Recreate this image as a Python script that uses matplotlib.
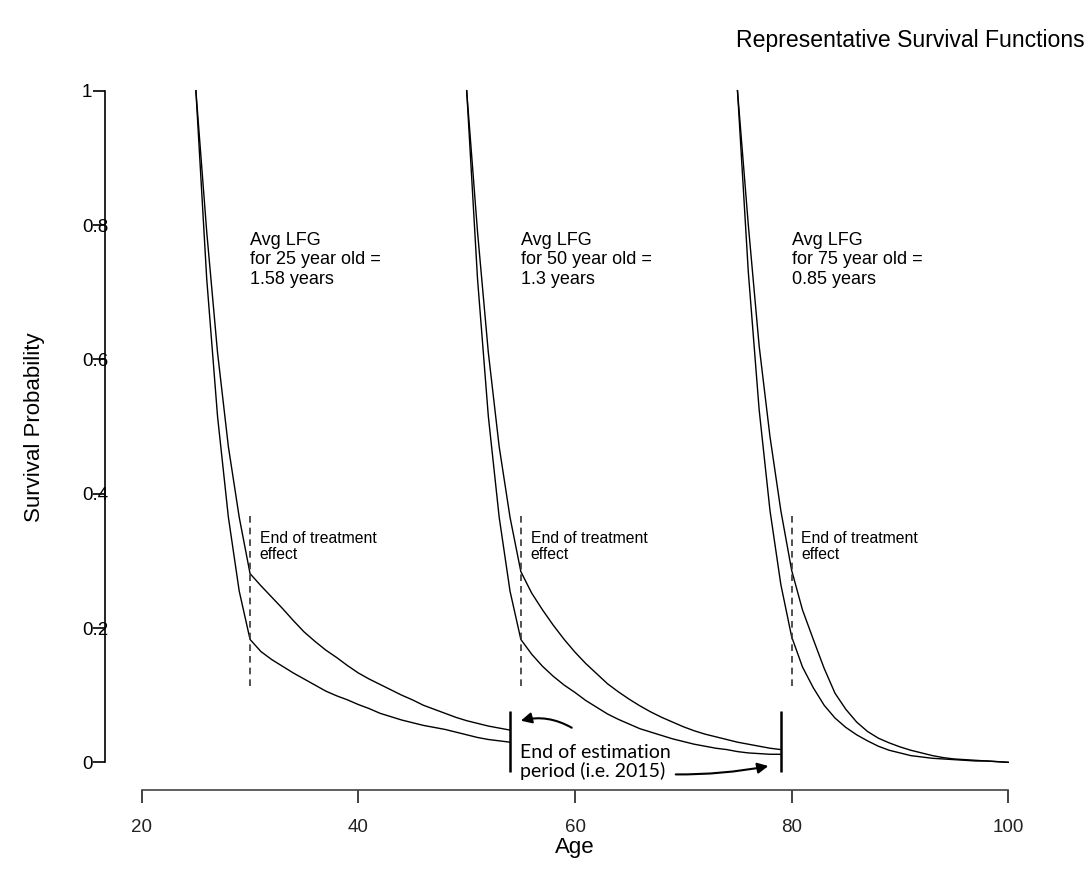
import matplotlib
matplotlib.use("Agg")
import matplotlib.pyplot as plt

plt.rcParams['font.family'] = ['Liberation Sans', 'DejaVu Sans']

# survival curves, with (treated) and without (untreated) the treatment effect
ages_25 = list(range(25, 55))
treated_25 = [1.0, 0.79, 0.61, 0.47, 0.365, 0.281, 0.263, 0.246, 0.229, 0.211,
              0.194, 0.180, 0.167, 0.156, 0.144, 0.133, 0.124, 0.116, 0.108, 0.100,
              0.093, 0.085, 0.079, 0.073, 0.067, 0.062, 0.058, 0.054, 0.051, 0.048]
untreated_25 = [1.0, 0.72, 0.515, 0.365, 0.255, 0.183, 0.165, 0.153, 0.143, 0.133,
                0.124, 0.115, 0.106, 0.099, 0.093, 0.086, 0.080, 0.073, 0.068, 0.063,
                0.059, 0.055, 0.052, 0.049, 0.045, 0.041, 0.037, 0.034, 0.032, 0.030]

ages_50 = list(range(50, 80))
treated_50 = [1.0, 0.79, 0.61, 0.47, 0.365, 0.284, 0.252, 0.227, 0.204, 0.183,
              0.164, 0.147, 0.132, 0.117, 0.105, 0.094, 0.084, 0.075, 0.067, 0.060,
              0.053, 0.047, 0.042, 0.038, 0.034, 0.030, 0.027, 0.024, 0.021, 0.019]
untreated_50 = [1.0, 0.72, 0.515, 0.365, 0.255, 0.183, 0.161, 0.143, 0.128, 0.115,
                0.104, 0.092, 0.082, 0.072, 0.064, 0.057, 0.050, 0.045, 0.040, 0.035,
                0.031, 0.027, 0.024, 0.021, 0.019, 0.016, 0.014, 0.013, 0.012, 0.012]

ages_75 = list(range(75, 101))
treated_75 = [1.0, 0.80, 0.62, 0.485, 0.375, 0.286, 0.227, 0.183, 0.140, 0.103,
              0.079, 0.060, 0.046, 0.036, 0.029, 0.023, 0.018, 0.014, 0.010, 0.007,
              0.005, 0.004, 0.003, 0.002, 0.001, 0.0]
untreated_75 = [1.0, 0.73, 0.525, 0.375, 0.265, 0.187, 0.142, 0.111, 0.085, 0.066,
                0.052, 0.041, 0.032, 0.024, 0.018, 0.014, 0.010, 0.008, 0.006, 0.005,
                0.004, 0.003, 0.002, 0.002, 0.001, 0.0]

treatment_end = [30, 55, 80]
estimation_end = [54, 79]
lfg_labels = ["Avg LFG\nfor 25 year old =\n1.58 years",
              "Avg LFG\nfor 50 year old =\n1.3 years",
              "Avg LFG\nfor 75 year old =\n0.85 years"]

x_ticks = [20, 40, 60, 80, 100]
y_ticks = [0, 0.2, 0.4, 0.6, 0.8, 1]
y_tick_labels = ["0", "0.2", "0.4", "0.6", "0.8", "1"]

W, H = 1091, 886
fig = plt.figure(figsize=(W / 100, H / 100), dpi=100)
# axes box in pixels: left 105, right 1045, top 60, bottom 790
ax = fig.add_axes([105 / W, 1 - 790 / H, (1045 - 105) / W, (790 - 60) / H])
ax.set_xlim(16.61, 103.39)
ax.set_ylim(-0.0412, 1.0457)

for ages, tr, un in [(ages_25, treated_25, untreated_25),
                     (ages_50, treated_50, untreated_50),
                     (ages_75, treated_75, untreated_75)]:
    ax.plot(ages, tr, color='black', lw=1.0)
    ax.plot(ages, un, color='black', lw=1.0)

for x, lab in zip(treatment_end, lfg_labels):
    ax.vlines(x, 0.113, 0.368, colors='#333333', linestyles=(0, (4, 3)), lw=1.2)
    ax.text(x + 0.9, 0.345, "End of treatment\neffect", fontsize=11.3,
            ha='left', va='top', linespacing=1.15)
    ax.text(x, 0.79, lab, fontsize=13, ha='left', va='top', linespacing=1.2)

for x in estimation_end:
    ax.vlines(x, -0.014, 0.077, colors='black', lw=1.8)

ax.text(54.9, 0.028, "End of estimation\nperiod (i.e. 2015)", fontsize=14,
        family=['Lato', 'DejaVu Sans'], ha='left', va='top', linespacing=1.1)
ax.annotate("", xy=(55.0, 0.062), xytext=(59.7, 0.0515),
            arrowprops=dict(arrowstyle='-|>', color='black', lw=1.5,
                            mutation_scale=16, shrinkA=0, shrinkB=0,
                            connectionstyle='arc3,rad=0.2'))
ax.annotate("", xy=(77.85, -0.0055), xytext=(69.3, -0.018),
            arrowprops=dict(arrowstyle='-|>', color='black', lw=1.5,
                            mutation_scale=16, shrinkA=0, shrinkB=0,
                            connectionstyle='arc3,rad=0.05'))

# R-style detached axes
for s in ['top', 'right']:
    ax.spines[s].set_visible(False)
ax.spines['left'].set_bounds(0, 1)
ax.spines['bottom'].set_bounds(20, 100)
ax.spines['left'].set_linewidth(1.2)
ax.spines['bottom'].set_linewidth(1.2)
ax.spines['bottom'].set_color('#444444')

ax.set_xticks(x_ticks)
ax.set_xticklabels([str(t) for t in x_ticks], fontsize=13.5)
ax.set_yticks(y_ticks)
ax.set_yticklabels(y_tick_labels, fontsize=13.5)
ax.tick_params(axis='x', length=9, width=1.2, pad=12, colors='#222222')
ax.tick_params(axis='y', length=8.6, width=1.2, pad=8)
for lbl in ax.get_yticklabels():
    lbl.set_horizontalalignment('left')

fig.text(1085 / W, 1 - 40 / H, "Representative Survival Functions",
         fontsize=16.6, ha='right', va='center')
fig.text(35 / W, 1 - 427 / H, "Survival Probability", fontsize=16,
         rotation=90, ha='center', va='center')
fig.text(575 / W, 1 - 848 / H, "Age", fontsize=16, ha='center', va='center')

fig.savefig("out.png", dpi=100)
